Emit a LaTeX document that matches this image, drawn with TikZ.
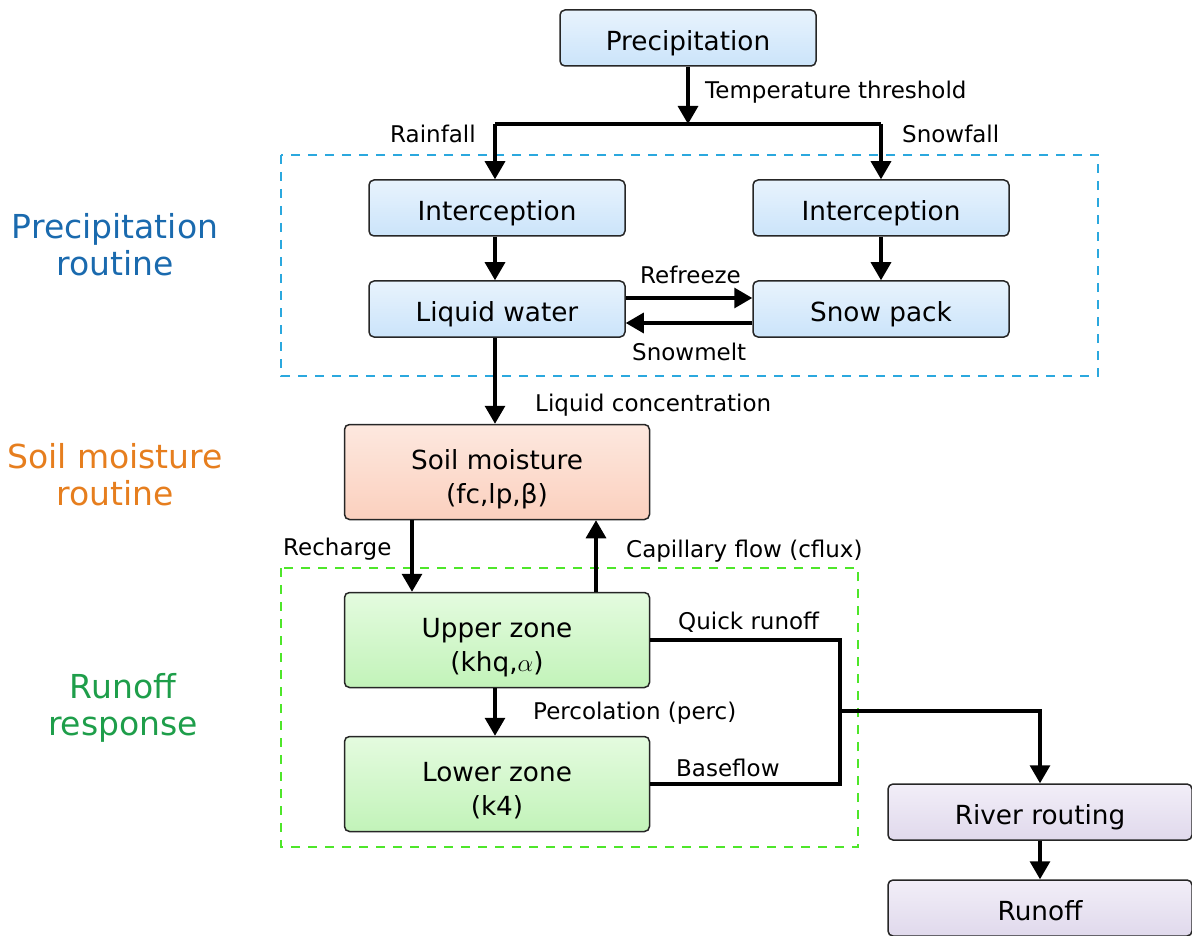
\documentclass[tikz,border=0pt]{standalone}
\usepackage{fontspec}
\setmainfont{DejaVu Sans}
\usetikzlibrary{arrows.meta,calc}
\definecolor{bluefill}{HTML}{CBE4FA}
\definecolor{bluetop}{HTML}{E8F3FD}
\definecolor{orfill}{HTML}{FBD0BE}
\definecolor{ortop}{HTML}{FDE8DF}
\definecolor{grfill}{HTML}{C2F3B9}
\definecolor{grtop}{HTML}{E4FBDF}
\definecolor{pufill}{HTML}{E0D9EC}
\definecolor{putop}{HTML}{F2EEF8}
\definecolor{dashblue}{HTML}{2BA8DE}
\definecolor{dashgreen}{HTML}{4EE62A}
\definecolor{lblblue}{HTML}{1A6AAE}
\definecolor{lblorange}{HTML}{E67E1E}
\definecolor{lblgreen}{HTML}{1E9E4A}
\newcommand\sstrut{\rule[-7pt]{0pt}{39pt}}
\newcommand\tstrut{\rule{0pt}{36pt}}
\newcommand\dstrut{\rule[-7pt]{0pt}{0pt}}
\tikzset{
  box/.style={draw=black!85, line width=1.5pt, rounded corners=5pt, inner sep=0pt,
    align=center, font=\fontsize{26.3}{34}\selectfont},
  bluebox/.style={box, top color=bluetop, bottom color=bluefill, minimum width=256pt, minimum height=56pt},
  orbox/.style={box, top color=ortop, bottom color=orfill, minimum width=305pt, minimum height=95pt},
  grbox/.style={box, top color=grtop, bottom color=grfill, minimum width=305pt, minimum height=95pt},
  pubox/.style={box, top color=putop, bottom color=pufill, minimum width=304pt, minimum height=56pt},
  line/.style={draw=black, line width=3.2pt},
  arr/.style={line, -{Triangle[length=18pt,width=20pt]}},
  lbl/.style={font=\fontsize{23}{26}\selectfont, inner sep=0pt},
  side/.style={font=\fontsize{33}{37}\selectfont, align=center, inner sep=0pt},
  dbox/.style={line width=2pt, dash pattern=on 9pt off 8pt}
}
\begin{document}
\begin{tikzpicture}[x=1pt,y=-1pt]
\useasboundingbox (0,0) rectangle (1192,936);
% dashed regions
\draw[dbox, dashblue] (281,155) rectangle (1098,376);
\draw[dbox, dashgreen] (281,568) rectangle (858,847);
% boxes
\node[bluebox] (prec) at (688,38) {\sstrut Precipitation};
\node[bluebox] (lint) at (497,208) {\sstrut Interception};
\node[bluebox] (rint) at (881,208) {\sstrut Interception};
\node[bluebox] (liq) at (497,309) {\sstrut Liquid water};
\node[bluebox] (snow) at (881,309) {\sstrut Snow pack};
\node[orbox] (soil) at (497,472) {\tstrut Soil moisture\\(fc,lp,β)\dstrut};
\node[grbox] (upper) at (497,640) {\tstrut Upper zone\\(khq,$\alpha$)\dstrut};
\node[grbox] (lower) at (497,784) {\tstrut Lower zone\\(k4)\dstrut};
\node[pubox] (river) at (1040,812) {\sstrut River routing};
\node[pubox] (runoff) at (1040,908) {\sstrut Runoff};
% side labels
\node[side, text=lblblue] (sl1) at (115,245) {Precipitation\\routine};
\node[side, text=lblorange] (sl2) at (115,475) {Soil moisture\\routine};
\node[side, text=lblgreen] (sl3) at (123,708) {Runoff\\response};
% connectors
\coordinate (j1) at (688,124);
\coordinate (jl) at (495,124);
\coordinate (jr) at (881,124);
\draw[arr] (prec) -- (j1);
\draw[line] (jl) -- (jr);
\draw[arr] (jl) -- (lint.north -| jl);
\draw[arr] (jr) -- (rint.north);
\draw[arr] (lint.south -| jl) -- (liq.north -| jl);
\draw[arr] (rint) -- (snow);
\draw[arr] ([yshift=11pt]liq.east) -- ([yshift=11pt]snow.west);
\draw[arr] ([yshift=-14pt]snow.west) -- ([yshift=-14pt]liq.east);
\draw[arr] (liq.south -| jl) -- (soil.north -| jl);
\coordinate (rc) at (412,0);
\coordinate (cf) at (596,0);
\draw[arr] (soil.south -| rc) -- (upper.north -| rc);
\draw[arr] (upper.north -| cf) -- (soil.south -| cf);
\draw[arr] (upper.south -| jl) -- (lower.north -| jl);
\coordinate (qj) at (840,711);
\draw[line] (upper.east) -| (qj);
\draw[line] (lower.east) -| (qj);
\draw[arr] (qj) -| (river.north);
\draw[arr] (river) -- (runoff);
% labels
\node[lbl, anchor=west] (t1) at (705,92) {Temperature threshold};
\node[lbl, anchor=west] (t2) at (390,134) {Rainfall};
\node[lbl, anchor=west] (t3) at (902,134) {Snowfall};
\node[lbl, anchor=west] (t4) at (640,275) {Refreeze};
\node[lbl, anchor=west] (t5) at (632,352) {Snowmelt};
\node[lbl, anchor=west] (t6) at (535,405) {Liquid concentration};
\node[lbl, anchor=west] (t7) at (283,549) {Recharge};
\node[lbl, anchor=west] (t8) at (626,551) {Capillary flow (cflux)};
\node[lbl, anchor=west] (t9) at (678,622) {Quick runoff};
\node[lbl, anchor=west] (t10) at (533,713) {Percolation (perc)};
\node[lbl, anchor=west] (t11) at (676,768) {Baseflow};
\end{tikzpicture}
\end{document}
